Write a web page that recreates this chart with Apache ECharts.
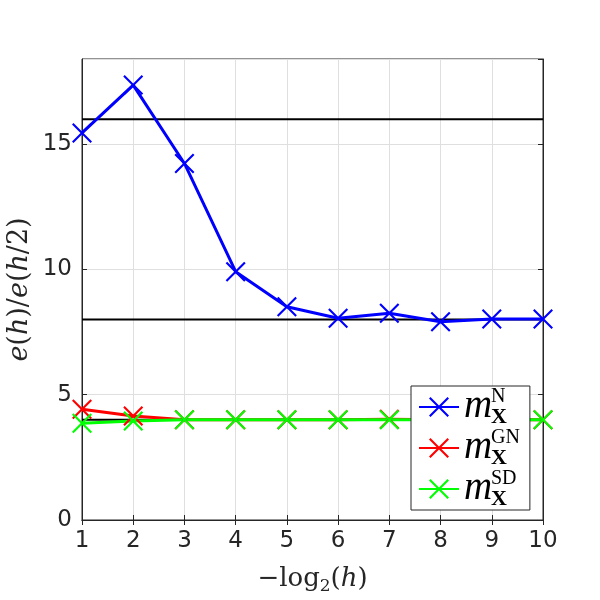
<!DOCTYPE html>
<html lang="en">
<head>
    <meta charset="UTF-8">
    <title>e(h)/e(h/2)</title>
    <script src="https://cdn.jsdelivr.net/npm/echarts@6/dist/echarts.min.js"></script>
    <style>
        body { margin: 0; background: #fff; }
        #main { width: 600px; height: 600px; }
    </style>
</head>
<body>
    <div id="main"></div>
    <script>
        // refinement levels -log2(h)
        const levels = [1, 2, 3, 4, 5, 6, 7, 8, 9, 10];

        // convergence ratios
        const ratioN  = [15.45, 17.36, 14.23, 9.91, 8.51, 8.05, 8.25, 7.91, 8.02, 8.02];
        const ratioGN = [4.42, 4.15, 4.0, 4.0, 4.0, 4.0, 4.02, 4.0, 4.0, 4.0];
        const ratioSD = [3.86, 3.95, 4.0, 4.0, 4.0, 4.0, 4.0, 4.0, 4.0, 4.0];

        // reference orders drawn as black horizontal lines
        const refLevels = [16, 8, 4];

        const yTicks = [0, 5, 10, 15];

        const crossIcon = 'path://M0,1.5L1.5,0L10,8.5L18.5,0L20,1.5L11.5,10L20,18.5L18.5,20L10,11.5L1.5,20L0,18.5L8.5,10Z';
        const serif = '"Liberation Serif", "DejaVu Serif", serif';
        const labelSerif = '"DejaVu Serif", serif';
        const textCol = '#262626';

        function pairs(ys) {
            return levels.map(function (x, i) { return [x, ys[i]]; });
        }

        function dataSeries(name, color, ys) {
            return {
                name: name,
                type: 'line',
                data: pairs(ys),
                symbol: crossIcon,
                symbolSize: 20,
                color: color,
                itemStyle: { color: color },
                lineStyle: { color: color, width: 3 },
                emphasis: { disabled: true },
                z: 3
            };
        }

        const refSeries = refLevels.map(function (v) {
            return {
                type: 'line',
                data: [[levels[0], v], [levels[levels.length - 1], v]],
                symbol: 'none',
                lineStyle: { color: '#000', width: 2 },
                silent: true,
                z: 2
            };
        });

        const supNames = { N: 'N', GN: 'GN', SD: 'SD' };

        var chart = echarts.init(document.getElementById('main'));

        var option = {
            animation: false,
            grid: {
                left: 82, right: 57, top: 59, bottom: 80,
                containLabel: false,
                outerBoundsMode: 'none',
                show: true, borderColor: textCol, borderWidth: 1
            },
            xAxis: [{
                type: 'value',
                min: 1, max: 10, interval: 1,
                name: '{n|\u2212log}{s|2}{n|(}{i|h}{n|)}',
                nameLocation: 'middle',
                nameGap: 44,
                nameTextStyle: {
                    rich: {
                        n: { fontFamily: labelSerif, fontSize: 26, color: textCol },
                        i: { fontFamily: labelSerif, fontSize: 26, fontStyle: 'italic', color: textCol },
                        s: { fontFamily: labelSerif, fontSize: 17, color: textCol, padding: [14, 0, 0, 0] }
                    }
                },
                axisLine: { lineStyle: { color: textCol } },
                axisTick: { inside: true, length: 5, lineStyle: { color: textCol } },
                axisLabel: { fontFamily: 'DejaVu Sans', fontSize: 23, color: textCol, margin: 10 },
                splitLine: { show: true, lineStyle: { color: '#dfdfdf' } }
            }, {
                type: 'value', position: 'top',
                min: 1, max: 10, interval: 1,
                axisLine: { lineStyle: { color: textCol } },
                axisTick: { inside: true, length: 5, lineStyle: { color: textCol } },
                axisLabel: { show: false },
                splitLine: { show: false }
            }],
            yAxis: [{
                type: 'value',
                min: yTicks[0], max: 18.4, interval: yTicks[1] - yTicks[0],
                name: '{i|e}{n|(}{i|h}{n|)/}{i|e}{n|(}{i|h}{n|/2)}',
                nameLocation: 'middle',
                nameGap: 49,
                nameMoveOverlap: false,
                nameTextStyle: {
                    rich: {
                        n: { fontFamily: labelSerif, fontSize: 27, color: textCol },
                        i: { fontFamily: labelSerif, fontSize: 27, fontStyle: 'italic', color: textCol }
                    }
                },
                axisLine: { lineStyle: { color: textCol } },
                axisTick: { inside: true, length: 5, lineStyle: { color: textCol } },
                axisLabel: { fontFamily: 'DejaVu Sans', fontSize: 23, color: textCol, margin: 10, showMaxLabel: false },
                splitLine: { show: true, lineStyle: { color: '#dfdfdf' } }
            }, {
                type: 'value', position: 'right',
                min: yTicks[0], max: 18.4, interval: yTicks[1] - yTicks[0],
                axisLine: { show: true, lineStyle: { color: textCol } },
                axisTick: { show: true, inside: true, length: 5, lineStyle: { color: textCol } },
                axisLabel: { show: false },
                splitLine: { show: false }
            }],
            legend: {
                data: ['N', 'GN', 'SD'],
                orient: 'vertical',
                left: 411, top: 386,
                padding: [1, 10, 0, 7],
                itemGap: 0,
                itemWidth: 40,
                itemHeight: 25,
                backgroundColor: '#fff',
                borderColor: textCol,
                borderWidth: 1,
                borderRadius: 0,
                selectedMode: false,
                formatter: function (name) {
                    return '{sp|}{sup|' + supNames[name] + '}\n{m|m}\n{sp|}{sub|X}';
                },
                textStyle: {
                    lineHeight: 10,
                    rich: {
                        sp: { width: 27, fontSize: 10, lineHeight: 10 },
                        sup: { fontFamily: serif, fontSize: 20, lineHeight: 10, color: '#000' },
                        m: { fontFamily: serif, fontSize: 39, fontStyle: 'italic', lineHeight: 10, color: '#000' },
                        sub: { fontFamily: serif, fontSize: 22, fontWeight: 'bold', lineHeight: 10, color: '#000' }
                    }
                }
            },
            series: refSeries.concat([
                dataSeries('N', '#0000ff', ratioN),
                dataSeries('GN', '#ff0000', ratioGN),
                dataSeries('SD', '#00ff00', ratioSD)
            ])
        };

        chart.setOption(option);
    </script>
</body>
</html>
